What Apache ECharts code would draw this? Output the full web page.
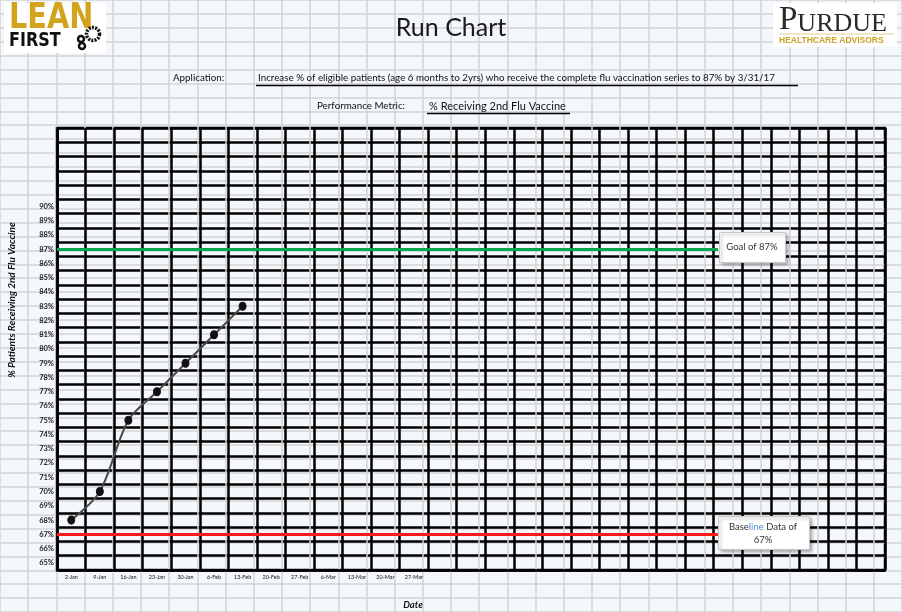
<!DOCTYPE html>
<html>
<head>
<meta charset="utf-8">
<script src="https://cdn.jsdelivr.net/npm/echarts@6/dist/echarts.min.js"></script>
<style>
html,body{margin:0;padding:0;background:#f4f7fb;}
#chart{width:902px;height:612px;}
</style>
</head>
<body>
<div id="chart"></div>
<script>
// ---- data ----
const dateLabels = ['2-Jan','9-Jan','16-Jan','23-Jan','30-Jan','6-Feb','13-Feb','20-Feb','27-Feb','6-Mar','13-Mar','20-Mar','27-Mar'];
const emptyColumns = 16;
const yTickLabels = ['65%','66%','67%','68%','69%','70%','71%','72%','73%','74%','75%','76%','77%','78%','79%','80%','81%','82%','83%','84%','85%','86%','87%','88%','89%','90%'];
const emptyRows = 5;
const pctReceiving = [68, 70, 75, 77, 79, 81, 83];
const goalValue = 87;
const baselineValue = 67;
const titleText = 'Run Chart';
const aimLabel = 'Application:';
const aimText = 'Increase % of eligible patients (age 6 months to 2yrs) who receive the complete flu vaccination series to 87% by 3/31/17';
const metricLabel = 'Performance Metric:';
const metricText = '% Receiving 2nd Flu Vaccine';
const yTitle = '% Patients Receiving 2nd Flu Vaccine';
const xTitle = 'Date';

// ---- derived category lists ----
const xCats = dateLabels.concat(Array.from({length: emptyColumns}, (_, i) => '#c' + i));
const yCats = yTickLabels.concat(Array.from({length: emptyRows}, (_, i) => '#r' + i));
const nCols = xCats.length;
const nRows = yCats.length;

// ---- layout ----
const plotLeft = 57, plotTop = 128, plotW = 828, plotH = 442;
const colW = plotW / nCols, rowH = plotH / nRows;
const bgLeft = plotLeft - 2 * colW, bgTop = plotTop - 9 * rowH;
const lineEnd = 23.15;
const F = 'Lato, "Open Sans", sans-serif';

const chart = echarts.init(document.getElementById('chart'), null, {renderer: 'canvas'});

const option = {
  backgroundColor: '#f4f7fb',
  animation: false,
  grid: [
    {left: bgLeft, top: bgTop, width: 32 * colW, height: 44 * rowH},
    {left: plotLeft, top: plotTop, width: plotW, height: plotH, show: true, borderColor: '#000', borderWidth: 2.5, backgroundColor: 'transparent'}
  ],
  xAxis: [
    {gridIndex: 0, type: 'value', min: 0, max: 32, interval: 1, axisLabel: {show: false}, axisLine: {show: false}, axisTick: {show: false},
      splitLine: {show: true, lineStyle: {color: '#d3d3d3', width: 1.5}}},
    {gridIndex: 1, type: 'category', data: xCats, boundaryGap: true,
      axisLine: {show: true, lineStyle: {color: '#000', width: 2.5}}, axisTick: {show: false},
      axisLabel: {interval: 0, fontSize: 5.5, color: '#111', fontFamily: F, margin: 4,
        formatter: v => v.charAt(0) === '#' ? '' : v},
      splitLine: {show: true, interval: 0, lineStyle: {color: '#000', width: 2.5}}},
    {gridIndex: 1, type: 'value', min: 0, max: nCols, show: false}
  ],
  yAxis: [
    {gridIndex: 0, type: 'value', min: 0, max: 44, interval: 1, inverse: true, axisLabel: {show: false}, axisLine: {show: false}, axisTick: {show: false},
      splitLine: {show: true, lineStyle: {color: '#d3d3d3', width: 1.5}}},
    {gridIndex: 1, type: 'category', data: yCats, boundaryGap: true,
      axisLine: {show: true, lineStyle: {color: '#000', width: 2.5}}, axisTick: {show: false},
      axisLabel: {interval: 0, fontSize: 7.5, fontWeight: 'bold', color: '#222', fontFamily: F, margin: 3,
        formatter: v => v.charAt(0) === '#' ? '' : v},
      splitLine: {show: true, interval: 0, lineStyle: {color: '#000', width: 2.5}}},
    {gridIndex: 1, type: 'value', min: 64.5, max: 95.5, show: false}
  ],
  series: [
    {
      name: 'refs', type: 'line', xAxisIndex: 2, yAxisIndex: 2, data: [], silent: true,
      markLine: {
        silent: true, symbol: 'none', label: {show: false},
        data: [
          [{coord: [0, goalValue], lineStyle: {color: '#00a650', width: 3, type: 'solid'}}, {coord: [lineEnd, goalValue]}],
          [{coord: [0, baselineValue], lineStyle: {color: '#ff1a1a', width: 3, type: 'solid'}}, {coord: [lineEnd, baselineValue]}]
        ]
      }
    },
    {
      name: '% Receiving 2nd Flu Vaccine', type: 'line', xAxisIndex: 1, yAxisIndex: 2,
      data: pctReceiving, smooth: 0.3, symbol: 'circle', symbolSize: [7, 8],
      lineStyle: {color: '#4a4a4a', width: 2},
      itemStyle: {color: '#111', borderColor: '#111'}
    }
  ],
  graphic: {
    elements: [
    // LEAN FIRST logo
    {type: 'rect', z: 100, left: 4, top: 3, shape: {width: 102, height: 50}, style: {fill: '#fff'}},
    {type: 'text', z: 101, x: 9, y: 1, scaleX: 0.8, style: {text: 'LEAN', fontSize: 36, fontWeight: 'bold', fontFamily: '"DejaVu Sans"', fill: '#d2a31c'}},
    {type: 'text', z: 101, x: 9, y: 31, scaleX: 0.8, style: {text: 'FIRST', fontSize: 20, fontWeight: 'bold', fontFamily: '"DejaVu Sans"', fill: '#111'}},
    {type: 'circle', z: 101, shape: {cx: 93, cy: 34, r: 6.5}, style: {fill: '#fff', stroke: '#111', lineWidth: 3.5, lineDash: [2, 1.2]}},
    {type: 'circle', z: 101, shape: {cx: 81, cy: 39, r: 3}, style: {fill: '#fff', stroke: '#111', lineWidth: 2.5}},
    {type: 'circle', z: 101, shape: {cx: 82, cy: 46, r: 3}, style: {fill: '#fff', stroke: '#111', lineWidth: 2.5}},
    // PURDUE logo
    {type: 'rect', z: 100, left: 773, top: 3, shape: {width: 124, height: 44}, style: {fill: '#fff'}},
    {type: 'text', z: 101, left: 779, top: 4, style: {
      text: '{a|P}{b|URDUE}', rich: {
        a: {font: '33px "Liberation Serif", serif', fill: '#2e2925', verticalAlign: 'bottom'},
        b: {font: '26px "Liberation Serif", serif', fill: '#2e2925', verticalAlign: 'bottom'}
      }}},
    {type: 'line', z: 101, shape: {x1: 779, y1: 34, x2: 894, y2: 34}, style: {stroke: '#e3cf8e', lineWidth: 1}},
    {type: 'text', z: 101, left: 779, top: 36, style: {text: 'HEALTHCARE ADVISORS', font: 'bold 8.5px "Liberation Sans", sans-serif', fill: '#c9a227'}},
    // Title
    {type: 'text', z: 100, left: 'center', top: 15, style: {text: titleText, font: '25px ' + F, fill: '#1a1a1a'}},
    // Aim
    {type: 'text', z: 100, left: 173, top: 73, style: {text: aimLabel, font: '9.8px ' + F, fill: '#111'}},
    {type: 'text', z: 100, left: 258, top: 73, style: {text: aimText, font: '9.8px ' + F, fill: '#111'}},
    {type: 'line', z: 100, shape: {x1: 256, y1: 85.5, x2: 798, y2: 85.5}, style: {stroke: '#000', lineWidth: 1.5}},
    // Metric
    {type: 'text', z: 100, left: 317, top: 101, style: {text: metricLabel, font: '9.8px ' + F, fill: '#111'}},
    {type: 'text', z: 100, left: 429, top: 101, style: {text: metricText, font: '11px ' + F, fill: '#111'}},
    {type: 'line', z: 100, shape: {x1: 427, y1: 113.5, x2: 570, y2: 113.5}, style: {stroke: '#000', lineWidth: 1.5}},
    // Axis titles
    {type: 'text', z: 100, x: 12, y: 300, rotation: Math.PI / 2, style: {text: yTitle, font: 'italic bold 10px ' + F, fill: '#111', align: 'center', verticalAlign: 'middle'}},
    {type: 'text', z: 100, x: 413, y: 605, style: {text: xTitle, font: 'italic bold 9.5px ' + F, fill: '#111', align: 'center', verticalAlign: 'middle'}},
    // Goal box
    {type: 'rect', z: 100, left: 719, top: 232, shape: {width: 66, height: 30}, style: {fill: '#fff', stroke: '#c8c8c8', lineWidth: 1, shadowBlur: 3, shadowOffsetX: 2, shadowOffsetY: 2, shadowColor: 'rgba(0,0,0,0.3)'}},
    {type: 'text', z: 101, x: 752, y: 247, style: {text: 'Goal of 87%', font: '9.5px ' + F, fill: '#333', align: 'center', verticalAlign: 'middle'}},
    // Baseline box
    {type: 'rect', z: 100, left: 718, top: 516, shape: {width: 91, height: 33}, style: {fill: '#fff', stroke: '#c8c8c8', lineWidth: 1, shadowBlur: 3, shadowOffsetX: 2, shadowOffsetY: 2, shadowColor: 'rgba(0,0,0,0.3)'}},
    {type: 'text', z: 101, x: 763, y: 533, style: {
      text: '{k|Base}{b|line}{k| Data of}\n{k|67%}', align: 'center', verticalAlign: 'middle',
      rich: {k: {font: '9.5px ' + F, fill: '#333', lineHeight: 13}, b: {font: '9.5px ' + F, fill: '#4f86d8', lineHeight: 13}}
    }}
    ]
  }
};
chart.setOption(option);
</script>
</body>
</html>
